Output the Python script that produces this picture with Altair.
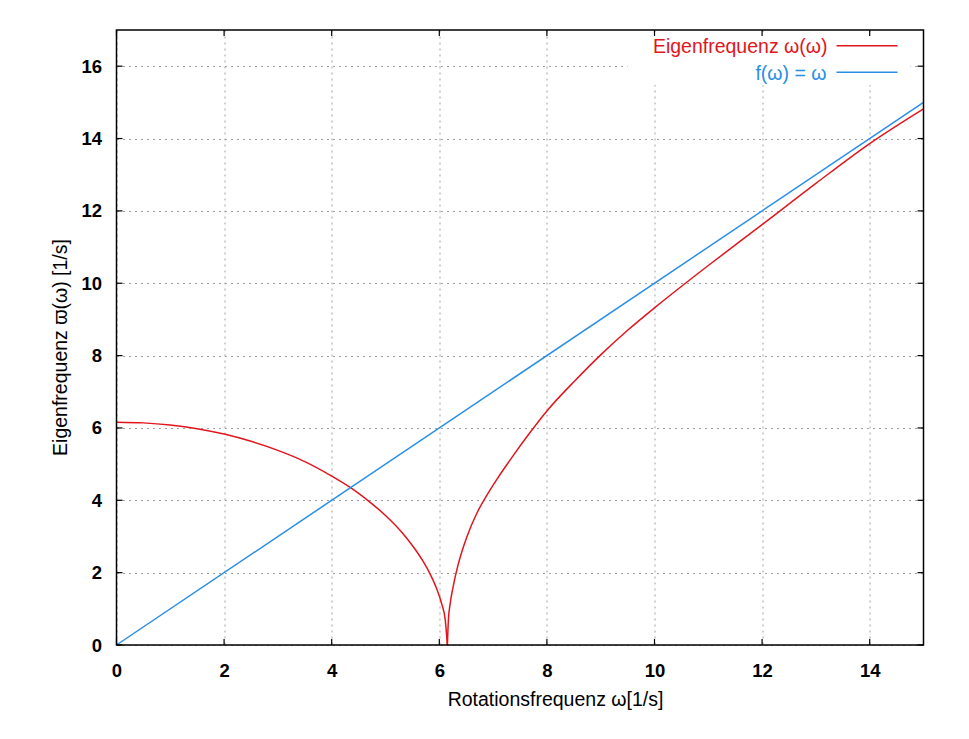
import altair as alt
import pandas as pd

# ---- data ----
x_ticks = [0, 2, 4, 6, 8, 10, 12, 14]
y_ticks = [0, 2, 4, 6, 8, 10, 12, 14, 16]

# red curve, branch below the critical speed
red_left_w = [0.0, 0.5, 1.0, 1.5, 2.0, 2.5, 3.0, 3.5, 4.0, 4.35, 4.5, 4.71, 5.0, 5.33,
              5.52, 5.70, 5.83, 5.95, 6.04, 6.11, 6.15]
red_left_v = [6.16, 6.14, 6.08, 5.98, 5.83, 5.63, 5.38, 5.07, 4.67, 4.35, 4.19, 3.95, 3.58, 3.07,
              2.71, 2.31, 1.96, 1.56, 1.16, 0.70, 0.0]
# red curve, branch above the critical speed
red_right_w = [6.15, 6.17, 6.20, 6.26, 6.35, 6.51, 6.70, 6.88, 7.07, 7.38, 7.69, 8.0, 8.53,
               9.0, 9.5, 10.0, 10.67, 11.0, 12.0, 13.0, 14.0, 15.0]
red_right_v = [0.0, 0.72, 1.12, 1.63, 2.22, 2.98, 3.65, 4.13, 4.58, 5.25, 5.88, 6.47, 7.32,
               8.02, 8.70, 9.32, 10.11, 10.49, 11.62, 12.76, 13.86, 14.82]

blue_w = [0.0, 15.0]
blue_v = [0.0, 15.0]

legend_labels = ["Eigenfrequenz ω(ω)", "f(ω) = ω"]
x_title = "Rotationsfrequenz ω[1/s]"
y_title = "Eigenfrequenz ϖ(ω) [1/s]"

RED = "#e0161c"
BLUE = "#2a8ee6"
FONT = "Liberation Sans"
W, H = 807, 615

red_df = pd.concat([
    pd.DataFrame({"w": red_left_w, "v": red_left_v, "branch": "left",
                  "i": list(range(len(red_left_w)))}),
    pd.DataFrame({"w": red_right_w, "v": red_right_v, "branch": "right",
                  "i": list(range(len(red_right_w)))}),
], ignore_index=True)
blue_df = pd.DataFrame({"w": blue_w, "v": blue_v, "i": list(range(len(blue_w)))})
xt_df = pd.DataFrame({"w": x_ticks})
yt_df = pd.DataFrame({"v": y_ticks})

xscale = alt.Scale(domain=[0, 15], nice=False, zero=False)
yscale = alt.Scale(domain=[0, 17], nice=False, zero=False)

xaxis = alt.Axis(
    values=x_ticks, title=x_title, format="d",
    grid=True, gridDash=[2, 4], gridColor="#a0a0a0", gridWidth=1,
    domain=False, ticks=False, tickSize=0,
    labelFont=FONT, labelFontWeight="bold", labelFontSize=18.5, labelColor="black",
    labelBaseline="alphabetic", labelPadding=31, labelFlush=False, labelOverlap=False,
    titleFont=FONT, titleFontWeight="normal", titleFontSize=19.5, titleColor="black",
    titleX=438.5, titleY=60, titleBaseline="alphabetic", titleAlign="center",
)
yaxis = alt.Axis(
    values=y_ticks, title=y_title, format="d",
    grid=True, gridDash=[2, 4], gridColor="#a0a0a0", gridWidth=1,
    domain=False, ticks=False, tickSize=0,
    labelFont=FONT, labelFontWeight="bold", labelFontSize=18.5, labelColor="black",
    labelBaseline="middle", labelPadding=15, labelFlush=False, labelOverlap=False,
    titleFont=FONT, titleFontWeight="normal", titleFontSize=19.5, titleColor="black",
    titleX=-50, titleY=317, titleBaseline="alphabetic", titleAlign="center", titleAngle=270,
)

red_line = alt.Chart(red_df).mark_line(
    color=RED, strokeWidth=1.5, interpolate="monotone").encode(
    x=alt.X("w:Q", scale=xscale, axis=xaxis),
    y=alt.Y("v:Q", scale=yscale, axis=yaxis),
    detail="branch:N",
    order="i:Q",
)
blue_line = alt.Chart(blue_df).mark_line(color=BLUE, strokeWidth=1.5).encode(
    x=alt.X("w:Q", scale=xscale),
    y=alt.Y("v:Q", scale=yscale),
    order="i:Q",
)

# inward tick marks on all four sides (gnuplot style)
xt_bottom = alt.Chart(xt_df).mark_rule(color="black", strokeWidth=1.2).encode(
    x=alt.X("w:Q", scale=xscale), y=alt.value(H), y2=alt.value(H - 6))
xt_top = alt.Chart(xt_df).mark_rule(color="black", strokeWidth=1.2).encode(
    x=alt.X("w:Q", scale=xscale), y=alt.value(0), y2=alt.value(6))
yt_left = alt.Chart(yt_df).mark_rule(color="black", strokeWidth=1.2).encode(
    y=alt.Y("v:Q", scale=yscale), x=alt.value(0), x2=alt.value(6))
yt_right = alt.Chart(yt_df).mark_rule(color="black", strokeWidth=1.2).encode(
    y=alt.Y("v:Q", scale=yscale), x=alt.value(W), x2=alt.value(W - 6))

# key (legend) with opaque background, samples to the right of the text
key_box = alt.Chart(alt.Data(values=[{"label": legend_labels[0]}])).mark_rect(
    color="white").encode(x=alt.value(511), x2=alt.value(794), y=alt.value(2), y2=alt.value(55))
key_t1 = alt.Chart(alt.Data(values=[{"label": legend_labels[0]}])).mark_text(
    align="right", baseline="alphabetic", font=FONT, fontSize=19.5, color=RED).encode(
    text="label:N", x=alt.value(711), y=alt.value(23))
key_l1 = alt.Chart(alt.Data(values=[{"label": legend_labels[0]}])).mark_rule(
    color=RED, strokeWidth=1.5).encode(x=alt.value(720), x2=alt.value(781), y=alt.value(15.7))
key_t2 = alt.Chart(alt.Data(values=[{"label": legend_labels[1]}])).mark_text(
    align="right", baseline="alphabetic", font=FONT, fontSize=19.5, color=BLUE).encode(
    text="label:N", x=alt.value(710), y=alt.value(50))
key_l2 = alt.Chart(alt.Data(values=[{"label": legend_labels[1]}])).mark_rule(
    color=BLUE, strokeWidth=1.5).encode(x=alt.value(720), x2=alt.value(781), y=alt.value(42.3))

border = alt.Chart(alt.Data(values=[{"label": "frame"}])).mark_rect(
    fillOpacity=0, stroke="black", strokeWidth=1.5).encode(
    x=alt.value(0), x2=alt.value(W), y=alt.value(0), y2=alt.value(H))

chart = alt.layer(
    red_line, blue_line, key_box, key_t1, key_l1, key_t2, key_l2,
    xt_bottom, xt_top, yt_left, yt_right, border,
).properties(
    width=W, height=H,
    autosize=alt.AutoSizeParams(type="none"),
    padding={"left": 108.5, "top": 22, "right": 30, "bottom": 80},
    background="white",
).configure_view(strokeWidth=0)

chart.save("out.html", embed_options={"renderer": "svg", "actions": False})
